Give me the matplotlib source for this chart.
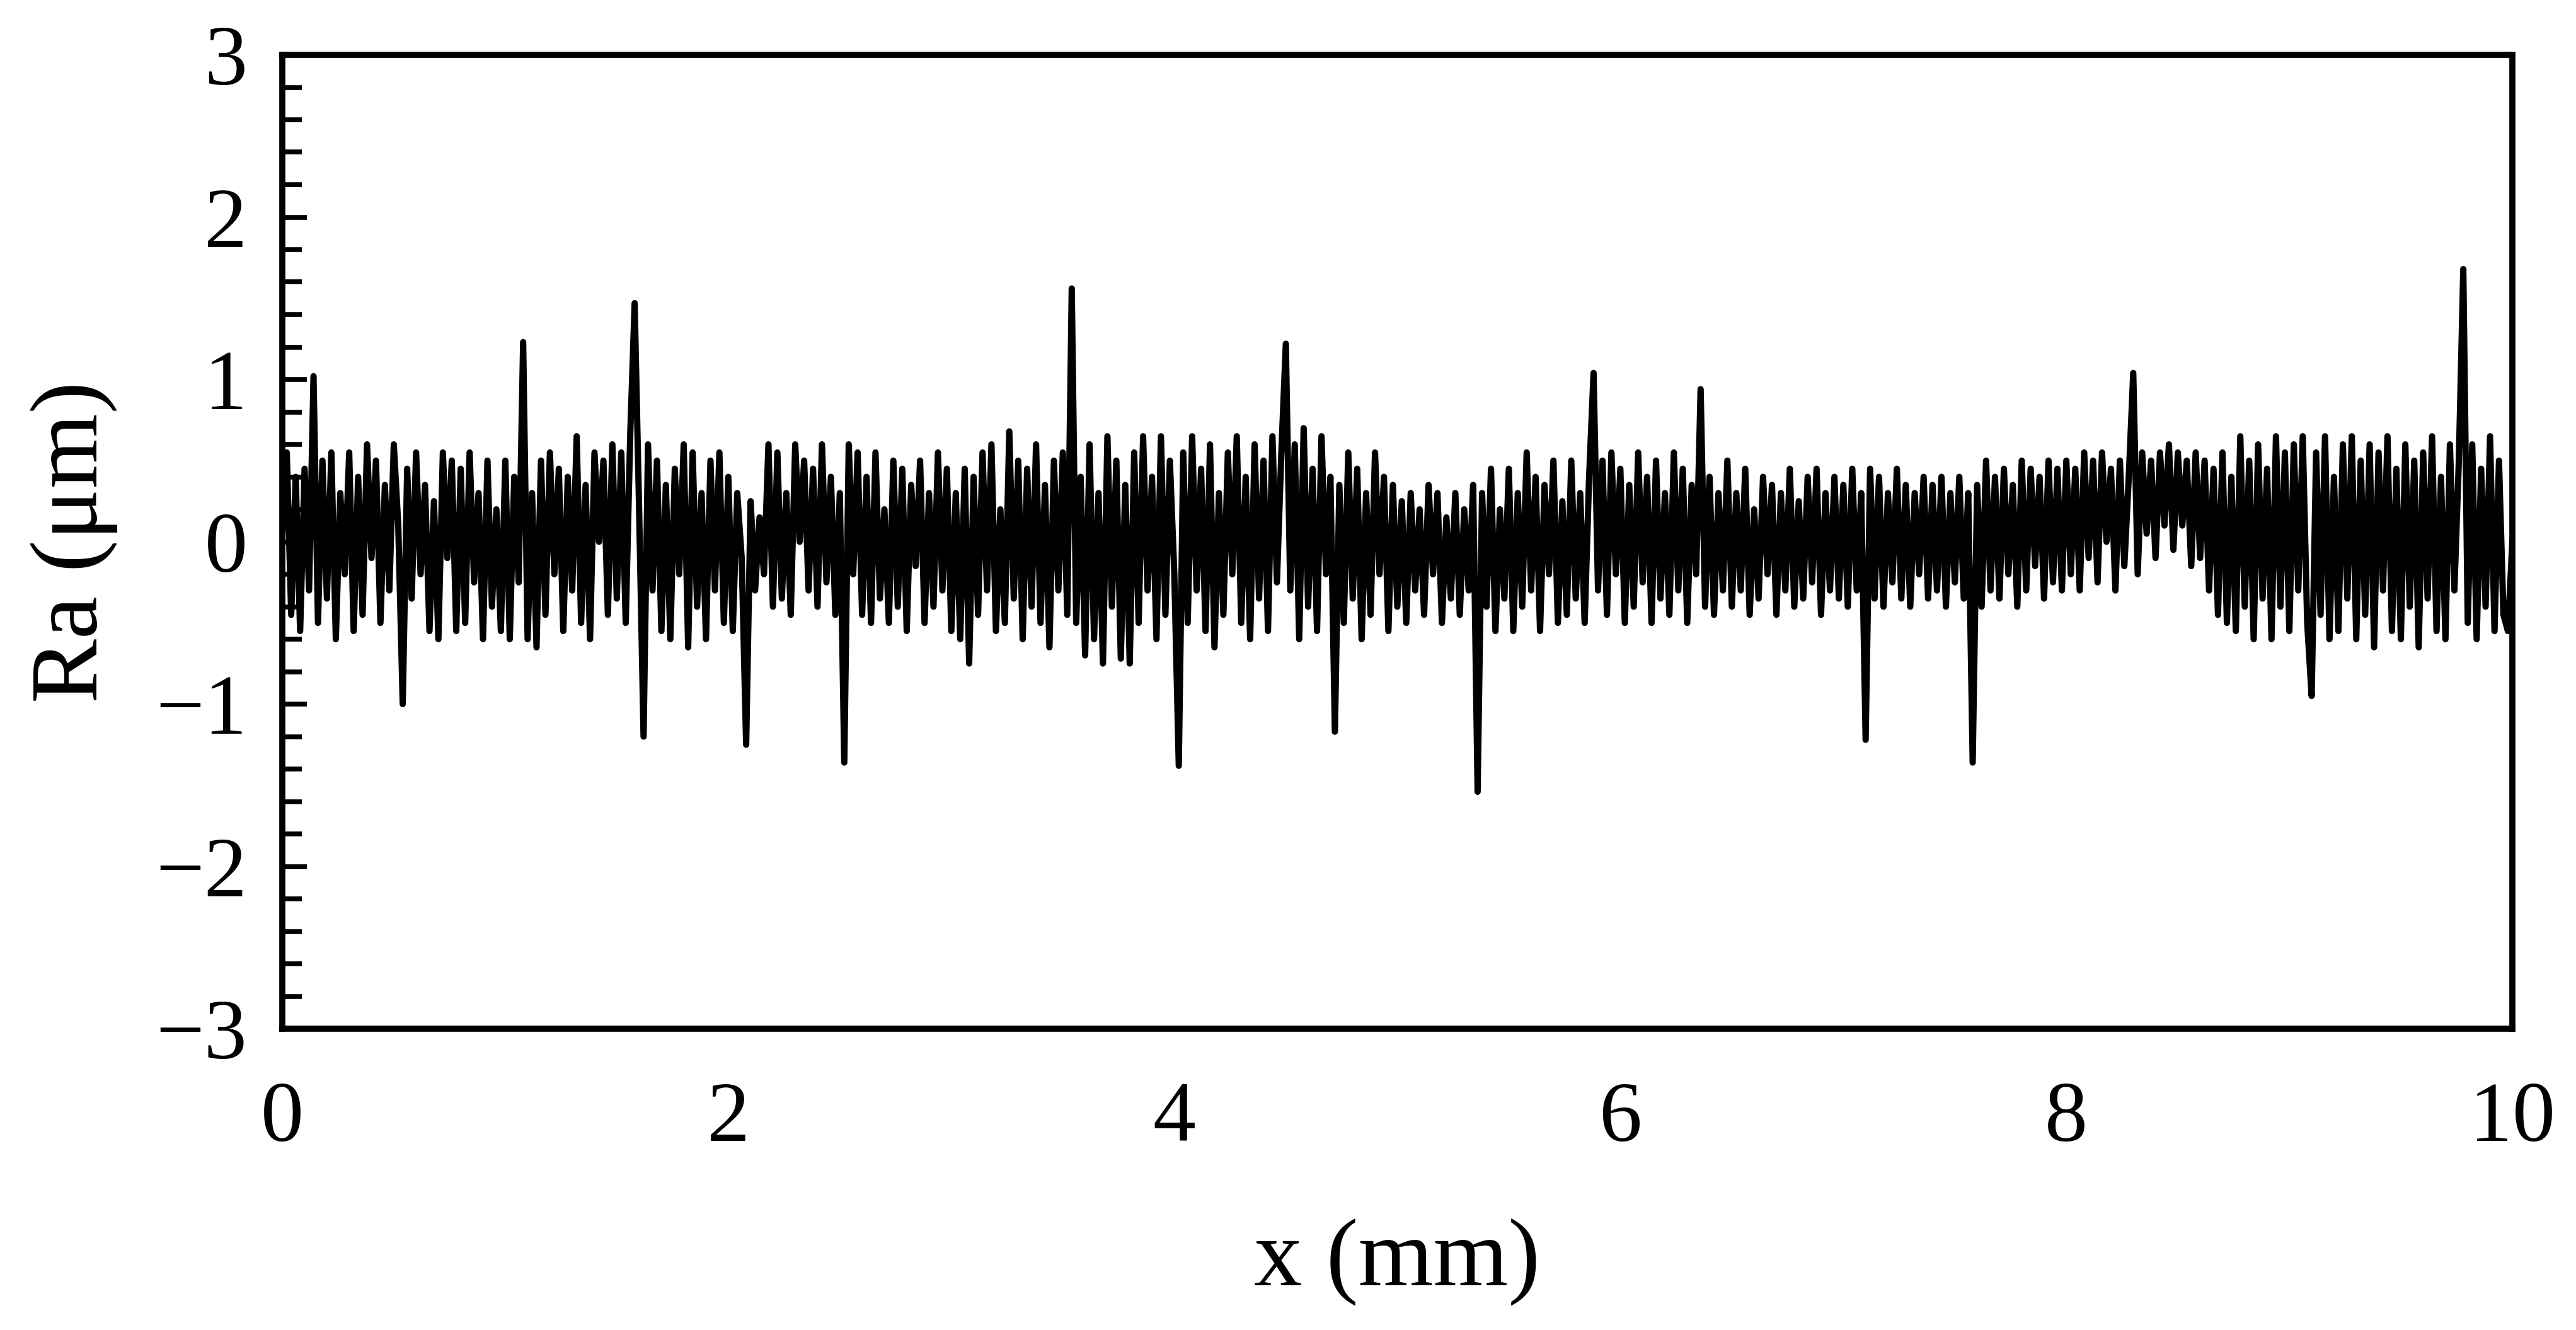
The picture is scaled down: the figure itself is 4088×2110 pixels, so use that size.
import matplotlib as mpl
mpl.use("Agg")
import matplotlib.pyplot as plt
from matplotlib.ticker import MultipleLocator
import numpy as np

# profile readings, one sample every 0.02 mm from 0 to 10 mm
x_start, x_end = 0.0, 10.0
ra = [
    # 0.00 - 0.48
    0.05, 0.55, -0.45, 0.4, -0.55, 0.45, -0.3, 1.02, -0.5, 0.5, -0.35, 0.55, -0.6,
    0.3, -0.2, 0.55, -0.55, 0.4, -0.45, 0.6, -0.1, 0.5, -0.5, 0.35, -0.3,
    # 0.50 - 0.98
    0.6, 0.1, -1.0, 0.45, -0.35, 0.55, -0.2, 0.35, -0.55, 0.25, -0.6, 0.55, -0.1,
    0.5, -0.55, 0.45, -0.5, 0.55, -0.25, 0.3, -0.6, 0.5, -0.4, 0.2, -0.55,
    # 1.00 - 1.48
    0.5, -0.6, 0.4, -0.25, 1.23, -0.6, 0.3, -0.65, 0.5, -0.45, 0.55, -0.2, 0.45,
    -0.55, 0.4, -0.3, 0.65, -0.5, 0.35, -0.6, 0.55, 0.0, 0.5, -0.45, 0.6,
    # 1.50 - 1.98
    -0.35, 0.55, -0.5, 0.65, 1.47, 0.2, -1.2, 0.6, -0.3, 0.5, -0.55, 0.35, -0.6,
    0.45, -0.2, 0.6, -0.65, 0.55, -0.4, 0.3, -0.6, 0.5, -0.3, 0.55, -0.5,
    # 2.00 - 2.48
    0.4, -0.55, 0.3, -0.1, -1.25, 0.25, -0.3, 0.15, -0.2, 0.6, -0.4, 0.55, -0.35,
    0.3, -0.45, 0.6, 0.0, 0.5, -0.3, 0.45, -0.4, 0.6, -0.25, 0.4, -0.45,
    # 2.50 - 2.98
    0.3, -1.36, 0.6, -0.2, 0.55, -0.45, 0.4, -0.5, 0.55, -0.35, 0.2, -0.5, 0.5,
    -0.4, 0.45, -0.55, 0.35, -0.15, 0.5, -0.5, 0.3, -0.4, 0.55, -0.3, 0.45,
    # 3.00 - 3.48
    -0.55, 0.3, -0.6, 0.45, -0.75, 0.4, -0.45, 0.55, -0.3, 0.6, -0.55, 0.2, -0.5,
    0.68, -0.35, 0.5, -0.6, 0.45, -0.4, 0.6, -0.5, 0.35, -0.65, 0.5, -0.3,
    # 3.50 - 3.98
    0.55, -0.45, 1.56, -0.5, 0.4, -0.7, 0.6, -0.6, 0.3, -0.75, 0.65, -0.4, 0.5,
    -0.72, 0.35, -0.75, 0.55, -0.5, 0.65, -0.3, 0.4, -0.6, 0.65, -0.45, 0.5,
    # 4.00 - 4.48
    -0.2, -1.38, 0.55, -0.5, 0.65, -0.3, 0.45, -0.55, 0.6, -0.65, 0.3, -0.45, 0.55,
    -0.2, 0.65, -0.5, 0.4, -0.6, 0.6, -0.35, 0.5, -0.55, 0.65, -0.25, 0.55,
    # 4.50 - 4.98
    1.22, -0.3, 0.6, -0.6, 0.7, -0.4, 0.45, -0.55, 0.65, -0.2, 0.4, -1.17, 0.35,
    -0.5, 0.55, -0.35, 0.45, -0.6, 0.3, -0.45, 0.55, -0.2, 0.4, -0.55, 0.35,
    # 5.00 - 5.48
    -0.4, 0.25, -0.5, 0.3, -0.3, 0.2, -0.45, 0.35, -0.2, 0.3, -0.5, 0.15, -0.35,
    0.3, -0.45, 0.2, -0.3, 0.35, -1.54, 0.3, -0.4, 0.45, -0.55, 0.2, -0.35,
    # 5.50 - 5.98
    0.45, -0.55, 0.3, -0.4, 0.55, -0.3, 0.4, -0.55, 0.35, -0.2, 0.5, -0.5, 0.25,
    -0.45, 0.5, -0.35, 0.3, -0.5, 0.4, 1.04, -0.3, 0.5, -0.45, 0.55, -0.2,
    # 6.00 - 6.48
    0.45, -0.5, 0.35, -0.4, 0.55, -0.25, 0.4, -0.5, 0.5, -0.35, 0.3, -0.45, 0.55,
    -0.3, 0.45, -0.5, 0.35, -0.2, 0.94, -0.4, 0.4, -0.45, 0.3, -0.3, 0.5,
    # 6.50 - 6.98
    -0.4, 0.3, -0.3, 0.45, -0.45, 0.2, -0.35, 0.4, -0.2, 0.35, -0.45, 0.3, -0.3,
    0.45, -0.4, 0.25, -0.35, 0.4, -0.25, 0.45, -0.45, 0.3, -0.3, 0.4, -0.35,
    # 7.00 - 7.48
    0.35, -0.4, 0.45, -0.3, 0.3, -1.22, 0.45, -0.35, 0.4, -0.4, 0.3, -0.25, 0.45,
    -0.35, 0.35, -0.4, 0.3, -0.2, 0.4, -0.35, 0.35, -0.3, 0.4, -0.4, 0.3,
    # 7.50 - 7.98
    -0.25, 0.4, -0.35, 0.3, -1.36, 0.35, -0.4, 0.5, -0.3, 0.4, -0.35, 0.45, -0.2,
    0.35, -0.4, 0.5, -0.3, 0.45, -0.15, 0.4, -0.35, 0.5, -0.25, 0.45, -0.3,
    # 8.00 - 8.48
    0.5, -0.2, 0.45, -0.3, 0.55, -0.1, 0.5, -0.25, 0.55, 0.0, 0.45, -0.3, 0.5,
    -0.15, 0.4, 1.04, -0.2, 0.55, 0.05, 0.5, -0.1, 0.55, 0.1, 0.6, -0.05,
    # 8.50 - 8.98
    0.55, 0.1, 0.5, -0.15, 0.55, -0.1, 0.5, -0.3, 0.45, -0.45, 0.55, -0.5, 0.4,
    -0.55, 0.65, -0.4, 0.5, -0.6, 0.6, -0.35, 0.45, -0.6, 0.65, -0.4, 0.55,
    # 9.00 - 9.48
    -0.55, 0.6, -0.3, 0.65, -0.5, -0.95, 0.55, -0.45, 0.65, -0.6, 0.4, -0.55, 0.6,
    -0.35, 0.65, -0.6, 0.5, -0.45, 0.6, -0.65, 0.55, -0.3, 0.65, -0.55, 0.45,
    # 9.50 - 10.00
    -0.6, 0.6, -0.4, 0.5, -0.65, 0.55, -0.35, 0.65, -0.55, 0.4, -0.6, 0.6, -0.3,
    0.5, 1.68, -0.5, 0.6, -0.6, 0.45, -0.4, 0.65, -0.55, 0.5, -0.45, -0.55, 0.0,
]
x = np.linspace(x_start, x_end, len(ra))

plt.rcParams['font.family'] = ['Liberation Serif', 'DejaVu Serif']
plt.rcParams['axes.unicode_minus'] = True

fig = plt.figure(figsize=(40.88, 21.1), dpi=100)
ax = fig.add_axes([448 / 4088, 1 - 1632 / 2110, (3987 - 448) / 4088, (1632 - 87) / 2110])

ax.plot(x, ra, color='black', lw=7.2)

ax.set_xlim(0, 10)
ax.set_ylim(-3, 3)
ax.xaxis.set_major_locator(MultipleLocator(2))
ax.yaxis.set_major_locator(MultipleLocator(1))
ax.yaxis.set_minor_locator(MultipleLocator(0.2))

for s in ax.spines.values():
    s.set_linewidth(7)

ax.tick_params(axis='x', which='both', length=0, pad=60, labelsize=98)
ax.tick_params(axis='y', which='major', direction='in', length=28, width=5.5,
               pad=40, labelsize=98, right=False)
ax.tick_params(axis='y', which='minor', direction='in', length=22, width=5.5, right=False)

ax.set_xlabel('x (mm)', fontsize=110, va='center')
ax.xaxis.set_label_coords(0.5, -0.2395)
ax.set_ylabel('Ra (μm)', fontsize=110, va='center')
ax.yaxis.set_label_coords(-0.0935, 0.5)

plt.savefig('out.png', dpi=100)
